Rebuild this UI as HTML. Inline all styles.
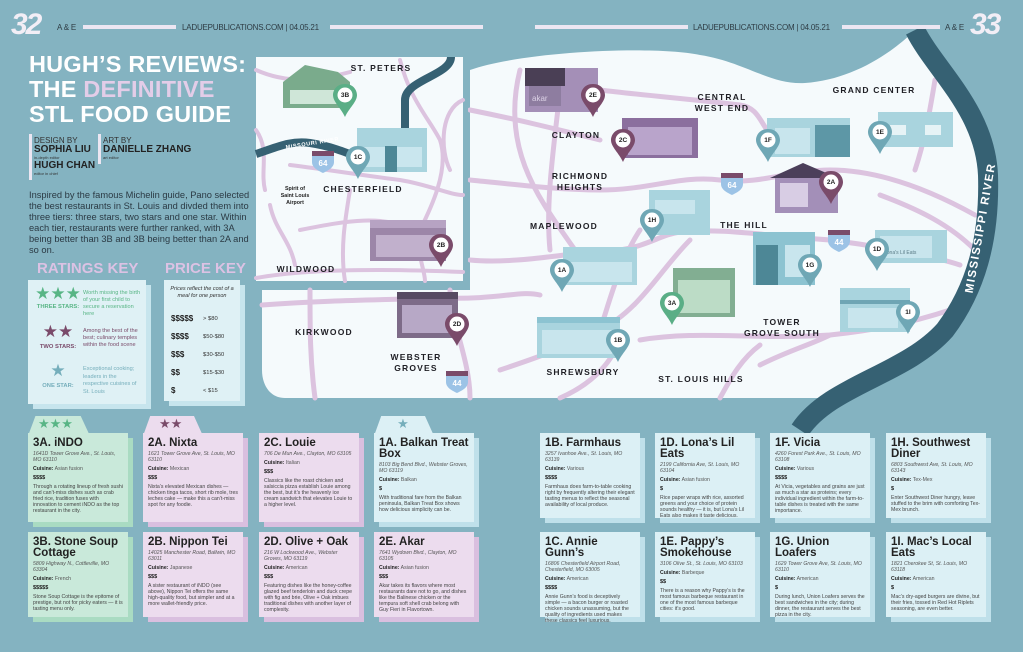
<!DOCTYPE html>
<html><head><meta charset="utf-8">
<style>
*{margin:0;padding:0;box-sizing:border-box}
body{width:1023px;height:652px;overflow:hidden;background:#84b3c1;font-family:"Liberation Sans",sans-serif;position:relative;color:#2b2b33}
.a{position:absolute}
.hdr{font-size:8px;color:#2e3c44;letter-spacing:-0.2px}
.bar{position:absolute;height:4px;background:#ece6f2;top:25px}
.big{font-weight:900;color:#f2eef6;font-size:30px;letter-spacing:-2px;font-style:italic}
.title{left:29px;top:52px;font-weight:bold;color:#fff;font-size:23.5px;line-height:25px;letter-spacing:0.2px}
.cred{font-size:8px;color:#333}
.cred b{font-size:10px;color:#222;display:block;line-height:10px}
.cred i{font-style:normal;font-size:4px;display:block;line-height:6px}
.para{left:29px;top:190px;width:222px;font-size:9.3px;line-height:11px;color:#2b3a44}
.keyt{font-weight:bold;color:#dcc2e4;font-size:15px}
.box{position:absolute;background:#dff1f5;box-shadow:5px 5px 0 #c7e5ed}
.card{position:absolute;width:100px;padding:5px 5px;box-shadow:5px 5px 0 var(--s);background:var(--b)}
.card h3{font-size:11.5px;line-height:11px;font-weight:bold;color:#222;margin-bottom:2px}
.card .ad{font-style:italic;font-size:5.2px;line-height:6px;color:#555}
.card .cu{font-size:5.2px;margin-top:3px;color:#555}
.card .cu b{color:#222}
.card .pr{font-size:5.5px;font-weight:bold;margin-top:3px;color:#222}
.card .tx{font-size:5.2px;line-height:6.1px;margin-top:3px;color:#444}
.g{--b:#c9e9da;--s:#a9dbc2}
.p{--b:#ecdcee;--s:#d9bfdf}
.u{--b:#dcf0f5;--s:#bfe0ea}
.lbl{font-family:"Liberation Sans",sans-serif;font-weight:bold;font-size:8.5px;fill:#1e1e24;letter-spacing:1.2px;text-anchor:middle}
</style></head><body>

<svg class="a" style="left:0;top:0" width="1023" height="652" viewBox="0 0 1023 652">
 <path d="M470 70 C520 52 650 45 700 55 C745 62 770 85 805 83 C850 80 890 55 915 30 C935 70 985 110 988 175 C990 240 975 290 945 330 C905 375 850 390 830 398 L285 398 C270 398 262 385 262 370 L262 290 L470 290 Z" fill="#f5fafc"/>
 <g fill="none" stroke="#dcc3df" stroke-width="5" stroke-linecap="round">
  <path d="M470 110 C520 120 560 130 600 140"/>
  <path d="M600 90 C640 95 700 100 740 105 C760 108 760 125 775 140"/>
  <path d="M470 180 C520 185 560 190 600 190 C650 190 680 175 720 180 C760 185 790 170 830 170 C880 170 930 190 975 215"/>
  <path d="M935 80 C930 110 925 140 915 170"/>
  <path d="M880 195 C920 210 950 225 975 250"/>
  <path d="M470 260 C520 265 580 250 620 250 C650 245 660 235 680 232 C720 228 760 235 830 240 C870 245 930 255 960 265"/>
  <path d="M560 90 C555 140 545 200 550 250"/>
  <path d="M520 70 C500 150 540 200 575 250"/>
  <path d="M262 305 C330 300 380 300 440 298 C500 300 520 290 540 295"/>
  <path d="M310 290 C310 330 310 360 315 398"/>
  <path d="M450 290 C450 320 470 360 470 398"/>
  <path d="M500 370 C530 360 560 350 600 330 C640 310 660 270 690 240"/>
  <path d="M640 230 C620 260 610 300 600 330"/>
  <path d="M640 340 C700 330 750 340 830 335 C880 330 920 320 950 310"/>
  <path d="M760 365 C790 350 810 345 830 335"/>
  <path d="M720 398 C730 380 740 360 760 345"/>
  <path d="M560 398 C590 385 610 365 620 340"/>
 </g>
 <path d="M915 30 C935 70 985 110 988 175 C990 240 975 290 945 330 C905 375 830 385 800 430" fill="none" stroke="#366173" stroke-width="20"/>
 <text x="0" y="0" transform="translate(981,228) rotate(-80)" dominant-baseline="middle" font-family="Liberation Sans" font-weight="bold" font-size="11.5" fill="#fff" letter-spacing="1.5" text-anchor="middle">MISSISSIPPI RIVER</text>

 <rect x="256" y="57" width="207" height="224" fill="#f5fafc" stroke="#84b3c1" stroke-width="10" paint-order="stroke"/>
 <rect x="256" y="57" width="207" height="224" fill="#f5fafc"/>
 <g fill="none" stroke="#dcc3df" stroke-width="4" stroke-linecap="round">
  <path d="M256 70 C290 85 320 80 350 72"/>
  <path d="M256 130 C270 150 260 170 265 190"/>
  <path d="M290 165 C330 170 360 175 400 180 C430 185 450 195 463 195"/>
  <path d="M400 60 C410 100 430 120 440 140 C450 170 430 210 420 230 C415 250 425 270 425 281"/>
  <path d="M463 100 C440 110 440 150 450 170"/>
  <path d="M350 190 C345 220 340 250 345 281"/>
  <path d="M270 205 C275 230 290 240 295 265"/>
  <path d="M256 278 C300 270 370 268 463 272"/>
  <path d="M300 230 C350 220 380 215 420 230"/>
 </g>
 <path d="M451 57 C451 75 405 80 405 100 L405 128" fill="none" stroke="#366173" stroke-width="8"/>
 <path d="M256 154 C275 148 290 140 310 143 C330 146 345 152 360 158" fill="none" stroke="#366173" stroke-width="8"/>
 <text x="286" y="149" transform="rotate(-9 286 149)" font-family="Liberation Sans" font-weight="bold" font-size="5.5" fill="#fff" letter-spacing="0.6">MISSOURI RIVER</text>
</svg>

<svg class="a" style="left:0;top:0" width="1023" height="652" viewBox="0 0 1023 652">
 <g>
  <polygon points="283,82 305,65 338,72 350,82 350,108 283,108" fill="#7aab8c"/><rect x="290" y="90" width="50" height="14" fill="#cfe6d8"/>
  <rect x="357" y="128" width="70" height="44" fill="#a9d4de"/><rect x="362" y="147" width="60" height="20" fill="#c9e6ee"/><rect x="385" y="146" width="12" height="26" fill="#4d8796"/>
  <rect x="370" y="220" width="76" height="41" fill="#9c86a8"/><rect x="370" y="220" width="76" height="8" fill="#b7a3c3"/><rect x="376" y="235" width="60" height="22" fill="#c1b0cc"/>
  <rect x="525" y="68" width="73" height="44" fill="#a48fb7"/><rect x="525" y="68" width="40" height="18" fill="#4a3f55"/><rect x="529" y="86" width="32" height="20" fill="#8e7da0"/><text x="532" y="101" font-size="8" fill="#dcd2e6" font-family="Liberation Sans">akar</text>
  <rect x="397" y="292" width="61" height="46" fill="#7d6b88"/><rect x="397" y="292" width="61" height="7" fill="#574a62"/><rect x="402" y="305" width="50" height="28" fill="#b7a8c6"/>
  <rect x="563" y="247" width="74" height="38" fill="#a9d4de"/><rect x="568" y="262" width="64" height="20" fill="#c8e5ed"/>
  <rect x="537" y="317" width="83" height="41" fill="#a9d4de"/><rect x="537" y="317" width="83" height="6" fill="#8cc3d1"/><rect x="542" y="330" width="70" height="24" fill="#c8e5ed"/>
  <rect x="622" y="118" width="76" height="40" fill="#8b6f9e"/><rect x="628" y="127" width="64" height="28" fill="#b9a4cb"/>
  <rect x="767" y="118" width="83" height="39" fill="#a9d4de"/><rect x="815" y="125" width="35" height="32" fill="#5d97a6"/><rect x="775" y="128" width="35" height="26" fill="#c8e5ed"/>
  <rect x="878" y="112" width="75" height="35" fill="#a9d4de"/><rect x="890" y="125" width="16" height="10" fill="#e6f3f6"/><rect x="925" y="125" width="16" height="10" fill="#e6f3f6"/>
  <polygon points="770,178 803,163 838,178" fill="#4b3f5a"/><rect x="775" y="178" width="63" height="35" fill="#a38fb8"/><rect x="780" y="183" width="28" height="24" fill="#d8cde4"/>
  <rect x="649" y="190" width="61" height="45" fill="#a9d4de"/><rect x="655" y="200" width="40" height="14" fill="#c8e5ed"/>
  <rect x="753" y="232" width="62" height="53" fill="#8cc3d1"/><rect x="756" y="245" width="22" height="40" fill="#4d8796"/><rect x="785" y="245" width="25" height="32" fill="#c8e5ed"/>
  <rect x="875" y="230" width="72" height="33" fill="#a9d4de"/><rect x="880" y="236" width="52" height="22" fill="#c8e5ed"/><text x="884" y="254" font-size="5" fill="#5a7b86" font-family="Liberation Sans">Lona's Lil Eats</text>
  <rect x="673" y="268" width="62" height="49" fill="#82ae92"/><rect x="678" y="280" width="52" height="33" fill="#bcdcc6"/>
  <rect x="840" y="288" width="70" height="44" fill="#a9d4de"/><rect x="840" y="300" width="70" height="4" fill="#6fa5b4"/><rect x="848" y="308" width="50" height="20" fill="#c8e5ed"/>
 </g>
 <defs>
  <g id="pin"><path d="M0 -22 C-9 -22 -12 -15 -12 -11 C-12 -4 -4 2 0 11 C4 2 12 -4 12 -11 C12 -15 9 -22 0 -22 Z"/><circle cx="0" cy="-11" r="7.5" fill="#fff"/></g>
 </defs>
 <g font-family="Liberation Sans" font-weight="bold" font-size="6.5" text-anchor="middle" fill="#222">
  <use href="#pin" x="345" y="106" fill="#5aae86"/><text x="345" y="97">3B</text>
  <use href="#pin" x="358" y="168" fill="#6fa7b5"/><text x="358" y="159">1C</text>
  <use href="#pin" x="441" y="256" fill="#7a4b6a"/><text x="441" y="247">2B</text>
  <use href="#pin" x="593" y="106" fill="#7a4b6a"/><text x="593" y="97">2E</text>
  <use href="#pin" x="457" y="335" fill="#7a4b6a"/><text x="457" y="326">2D</text>
  <use href="#pin" x="562" y="281" fill="#6fa7b5"/><text x="562" y="272">1A</text>
  <use href="#pin" x="618" y="351" fill="#6fa7b5"/><text x="618" y="342">1B</text>
  <use href="#pin" x="623" y="151" fill="#7a4b6a"/><text x="623" y="142">2C</text>
  <use href="#pin" x="768" y="151" fill="#6fa7b5"/><text x="768" y="142">1F</text>
  <use href="#pin" x="880" y="143" fill="#6fa7b5"/><text x="880" y="134">1E</text>
  <use href="#pin" x="831" y="193" fill="#7a4b6a"/><text x="831" y="184">2A</text>
  <use href="#pin" x="652" y="231" fill="#6fa7b5"/><text x="652" y="222">1H</text>
  <use href="#pin" x="877" y="260" fill="#6fa7b5"/><text x="877" y="251">1D</text>
  <use href="#pin" x="810" y="276" fill="#6fa7b5"/><text x="810" y="267">1G</text>
  <use href="#pin" x="672" y="314" fill="#5aae86"/><text x="672" y="305">3A</text>
  <use href="#pin" x="908" y="323" fill="#6fa7b5"/><text x="908" y="314">1I</text>
 </g>
 <defs><g id="sh"><path d="M-11 -9 L11 -9 L11 2 C11 8 4 11 0 13 C-4 11 -11 8 -11 2 Z" fill="#9cc3e6"/><path d="M-11 -9 L11 -9 L11 -4 L-11 -4 Z" fill="#7a4b6a"/></g></defs>
 <g font-family="Liberation Sans" font-weight="bold" font-size="8" fill="#fff" text-anchor="middle">
  <use href="#sh" x="323" y="160"/><text x="323" y="166">64</text>
  <use href="#sh" x="732" y="182"/><text x="732" y="188">64</text>
  <use href="#sh" x="839" y="239"/><text x="839" y="245">44</text>
  <use href="#sh" x="457" y="380"/><text x="457" y="386">44</text>
 </g>
 <text class="lbl" x="381" y="71">ST. PETERS</text>
 <text class="lbl" x="363" y="192">CHESTERFIELD</text>
 <g font-family="Liberation Sans" font-weight="bold" font-size="5.3" fill="#222" text-anchor="middle"><text x="295" y="190">Spirit of</text><text x="295" y="197">Saint Louis</text><text x="295" y="204">Airport</text></g>
 <text class="lbl" x="306" y="272">WILDWOOD</text>
 <text class="lbl" x="324" y="335">KIRKWOOD</text>
 <text class="lbl" x="416" y="360">WEBSTER</text><text class="lbl" x="416" y="371">GROVES</text>
 <text class="lbl" x="576" y="138">CLAYTON</text>
 <text class="lbl" x="580" y="179">RICHMOND</text><text class="lbl" x="580" y="190">HEIGHTS</text>
 <text class="lbl" x="564" y="229">MAPLEWOOD</text>
 <text class="lbl" x="583" y="375">SHREWSBURY</text>
 <text class="lbl" x="722" y="100">CENTRAL</text><text class="lbl" x="722" y="111">WEST END</text>
 <text class="lbl" x="874" y="93">GRAND CENTER</text>
 <text class="lbl" x="744" y="228">THE HILL</text>
 <text class="lbl" x="782" y="325">TOWER</text><text class="lbl" x="782" y="336">GROVE SOUTH</text>
 <text class="lbl" x="701" y="382">ST. LOUIS HILLS</text>
</svg>

<div class="a big" style="left:11px;top:8px">32</div>
<div class="a hdr" style="left:57px;top:23px">A &amp; E</div>
<div class="bar" style="left:83px;width:93px"></div>
<div class="a hdr" style="left:182px;top:23px">LADUEPUBLICATIONS.COM | 04.05.21</div>
<div class="bar" style="left:330px;width:153px"></div>
<div class="bar" style="left:535px;width:153px"></div>
<div class="a hdr" style="left:693px;top:23px">LADUEPUBLICATIONS.COM | 04.05.21</div>
<div class="bar" style="left:842px;width:98px"></div>
<div class="a hdr" style="left:945px;top:23px">A &amp; E</div>
<div class="a big" style="left:970px;top:8px">33</div>

<div class="a title">HUGH’S REVIEWS:<br>THE <span style="color:#e3cde8">DEFINITIVE</span><br>STL FOOD GUIDE</div>

<div class="a" style="left:29px;top:134px;width:3px;height:46px;background:#ece6f2"></div>
<div class="a cred" style="left:34px;top:136px">DESIGN BY<b>SOPHIA LIU</b><i>in-depth editor</i><b>HUGH CHAN</b><i>editor in chief</i></div>
<div class="a" style="left:98px;top:134px;width:3px;height:30px;background:#ece6f2"></div>
<div class="a cred" style="left:103px;top:136px">ART BY<b>DANIELLE ZHANG</b><i>art editor</i></div>

<div class="a para">Inspired by the famous Michelin guide, Pano selected the best restaurants in St. Louis and divded them into three tiers: three stars, two stars and one star. Within each tier, restaurants were further ranked, with 3A being better than 3B and 3B being better than 2A and so on.</div>

<div class="a keyt" style="left:37px;top:260px">RATINGS KEY</div>
<div class="a keyt" style="left:165px;top:260px">PRICE KEY</div>
<div class="box" style="left:28px;top:280px;width:118px;height:124px"></div>
<div class="box" style="left:164px;top:280px;width:76px;height:121px"></div>

<div class="a" style="left:33px;top:286px;width:50px;text-align:center;color:#58b585;font-size:17px;line-height:16px">★★★</div>
<div class="a" style="left:30px;top:304px;width:56px;text-align:center;color:#58b585;font-size:5.8px;font-weight:bold">THREE STARS:</div>
<div class="a" style="left:83px;top:290px;width:60px;color:#58b585;font-size:5.6px;line-height:7px">Worth missing the birth of your first child to secure a reservation here</div>
<div class="a" style="left:33px;top:324px;width:50px;text-align:center;color:#7a4b6a;font-size:17px;line-height:16px">★★</div>
<div class="a" style="left:30px;top:344px;width:56px;text-align:center;color:#7a4b6a;font-size:5.8px;font-weight:bold">TWO STARS:</div>
<div class="a" style="left:83px;top:328px;width:60px;color:#7a4b6a;font-size:5.6px;line-height:7px">Among the best of the best; culinary temples within the food scene</div>
<div class="a" style="left:33px;top:363px;width:50px;text-align:center;color:#75aebb;font-size:17px;line-height:16px">★</div>
<div class="a" style="left:30px;top:383px;width:56px;text-align:center;color:#75aebb;font-size:5.8px;font-weight:bold">ONE STAR:</div>
<div class="a" style="left:83px;top:366px;width:60px;color:#75aebb;font-size:5.6px;line-height:7.5px">Exceptional cooking; leaders in the respective cuisines of St. Louis</div>

<div class="a" style="left:166px;top:286px;width:72px;text-align:center;font-style:italic;font-size:5.5px;line-height:7px;color:#333">Prices reflect the cost of a meal for one person</div>
<div class="a" style="left:171px;top:310px;font-size:8px;line-height:18px;font-weight:bold;color:#222">$$$$$<br>$$$$<br>$$$<br>$$<br>$</div>
<div class="a" style="left:203px;top:310px;font-size:5.8px;line-height:18px;color:#333">&gt; $80<br>$50-$80<br>$30-$50<br>$15-$30<br>&lt; $15</div>

<div class="a" style="left:33px;top:416px;width:45px;height:20px;background:#a9dbc2;clip-path:polygon(10% 0,85% 0,100% 100%,0 100%)"></div>
<div class="a" style="left:28px;top:416px;width:62px;height:20px;background:#c9e9da;clip-path:polygon(12% 0,85% 0,100% 100%,0 100%)"></div>
<div class="a" style="left:38px;top:416px;width:40px;color:#58b585;font-size:13px;line-height:16px">★★★</div>
<div class="a" style="left:148px;top:416px;width:45px;height:20px;background:#d9bfdf;clip-path:polygon(10% 0,85% 0,100% 100%,0 100%)"></div>
<div class="a" style="left:143px;top:416px;width:60px;height:20px;background:#ecdcee;clip-path:polygon(12% 0,85% 0,100% 100%,0 100%)"></div>
<div class="a" style="left:159px;top:416px;color:#7a4b6a;font-size:13px;line-height:16px">★★</div>
<div class="a" style="left:379px;top:416px;width:45px;height:20px;background:#bfe0ea;clip-path:polygon(10% 0,85% 0,100% 100%,0 100%)"></div>
<div class="a" style="left:374px;top:416px;width:60px;height:20px;background:#dcf0f5;clip-path:polygon(12% 0,85% 0,100% 100%,0 100%)"></div>
<div class="a" style="left:383px;top:416px;width:40px;color:#75aebb;font-size:13px;line-height:16px;text-align:center">★</div>

<div class="card g" style="left:28px;top:433px;height:89px"><h3>3A. iNDO</h3><div class="ad">1641D Tower Grove Ave., St. Louis, MO 63110</div><div class="cu"><b>Cuisine:</b> Asian fusion</div><div class="pr">$$$$</div><div class="tx">Through a rotating lineup of fresh sushi and can’t-miss dishes such as crab fried rice, tradition fuses with innovation to cement iNDO as the top restaurant in the city.</div></div>
<div class="card p" style="left:143px;top:433px;height:89px"><h3>2A. Nixta</h3><div class="ad">1621 Tower Grove Ave, St. Louis, MO 63110</div><div class="cu"><b>Cuisine:</b> Mexican</div><div class="pr">$$$</div><div class="tx">Nixta’s elevated Mexican dishes — chicken tinga tacos, short rib mole, tres leches cake — make this a can’t-miss spot for any foodie.</div></div>
<div class="card p" style="left:259px;top:433px;height:89px"><h3>2C. Louie</h3><div class="ad">706 De Mun Ave., Clayton, MO 63105</div><div class="cu"><b>Cuisine:</b> Italian</div><div class="pr">$$$</div><div class="tx">Classics like the roast chicken and salsiccia pizza establish Louie among the best, but it’s the heavenly ice cream sandwich that elevates Louie to a higher level.</div></div>
<div class="card u" style="left:374px;top:433px;height:89px"><h3>1A. Balkan Treat Box</h3><div class="ad">8103 Big Bend Blvd., Webster Groves, MO 63119</div><div class="cu"><b>Cuisine:</b> Balkan</div><div class="pr">$</div><div class="tx">With traditional fare from the Balkan peninsula, Balkan Treat Box shows how delicious simplicity can be.</div></div>

<div class="card g" style="left:28px;top:532px;height:85px"><h3>3B. Stone Soup Cottage</h3><div class="ad">5809 Highway N., Cottleville, MO 63304</div><div class="cu"><b>Cuisine:</b> French</div><div class="pr">$$$$$</div><div class="tx">Stone Soup Cottage is the epitome of prestige, but not for picky eaters — it is tasting menu only.</div></div>
<div class="card p" style="left:143px;top:532px;height:85px"><h3>2B. Nippon Tei</h3><div class="ad">14025 Manchester Road, Ballwin, MO 63011</div><div class="cu"><b>Cuisine:</b> Japanese</div><div class="pr">$$$</div><div class="tx">A sister restaurant of iNDO (see above), Nippon Tei offers the same high-quality food, but simpler and at a more wallet-friendly price.</div></div>
<div class="card p" style="left:259px;top:532px;height:85px"><h3>2D. Olive + Oak</h3><div class="ad">216 W Lockwood Ave., Webster Groves, MO 63119</div><div class="cu"><b>Cuisine:</b> American</div><div class="pr">$$$</div><div class="tx">Featuring dishes like the honey-coffee glazed beef tenderloin and duck crepe with fig and brie, Olive + Oak imbues traditional dishes with another layer of complexity.</div></div>
<div class="card p" style="left:374px;top:532px;height:85px"><h3>2E. Akar</h3><div class="ad">7641 Wydown Blvd., Clayton, MO 63105</div><div class="cu"><b>Cuisine:</b> Asian fusion</div><div class="pr">$$$</div><div class="tx">Akar takes its flavors where most restaurants dare not to go, and dishes like the Balinese chicken or the tempura soft shell crab belong with Guy Fieri in Flavortown.</div></div>

<div class="card u" style="left:540px;top:433px;height:85px"><h3>1B. Farmhaus</h3><div class="ad">3257 Ivanhoe Ave., St. Louis, MO 63139</div><div class="cu"><b>Cuisine:</b> Various</div><div class="pr">$$$$</div><div class="tx">Farmhaus does farm-to-table cooking right by frequently altering their elegant tasting menus to reflect the seasonal availability of local produce.</div></div>
<div class="card u" style="left:655px;top:433px;height:85px"><h3>1D. Lona’s Lil Eats</h3><div class="ad">2199 California Ave, St. Louis, MO 63104</div><div class="cu"><b>Cuisine:</b> Asian fusion</div><div class="pr">$</div><div class="tx">Rice paper wraps with rice, assorted greens and your choice of protein sounds healthy — it is, but Lona’s Lil Eats also makes it taste delicious.</div></div>
<div class="card u" style="left:770px;top:433px;height:85px"><h3>1F. Vicia</h3><div class="ad">4260 Forest Park Ave., St. Louis, MO 63108</div><div class="cu"><b>Cuisine:</b> Various</div><div class="pr">$$$$</div><div class="tx">At Vicia, vegetables and grains are just as much a star as proteins; every individual ingredient within the farm-to-table dishes is treated with the same importance.</div></div>
<div class="card u" style="left:886px;top:433px;height:85px"><h3>1H. Southwest Diner</h3><div class="ad">6803 Southwest Ave, St. Louis, MO 63143</div><div class="cu"><b>Cuisine:</b> Tex-Mex</div><div class="pr">$</div><div class="tx">Enter Southwest Diner hungry, leave stuffed to the brim with comforting Tex-Mex brunch.</div></div>

<div class="card u" style="left:540px;top:532px;height:85px"><h3>1C. Annie Gunn’s</h3><div class="ad">16806 Chesterfield Airport Road, Chesterfield, MO 63005</div><div class="cu"><b>Cuisine:</b> American</div><div class="pr">$$$$</div><div class="tx">Annie Gunn’s food is deceptively simple — a bacon burger or roasted chicken sounds unassuming, but the quality of ingredients used makes these classics feel luxurious.</div></div>
<div class="card u" style="left:655px;top:532px;height:85px"><h3>1E. Pappy’s Smokehouse</h3><div class="ad">3106 Olive St., St. Louis, MO 63103</div><div class="cu"><b>Cuisine:</b> Barbeque</div><div class="pr">$$</div><div class="tx">There is a reason why Pappy’s is the most famous barbeque restaurant in one of the most famous barbeque cities: it’s good.</div></div>
<div class="card u" style="left:770px;top:532px;height:85px"><h3>1G. Union Loafers</h3><div class="ad">1629 Tower Grove Ave, St. Louis, MO 63110</div><div class="cu"><b>Cuisine:</b> American</div><div class="pr">$</div><div class="tx">During lunch, Union Loafers serves the best sandwiches in the city; during dinner, the restaurant serves the best pizza in the city.</div></div>
<div class="card u" style="left:886px;top:532px;height:85px"><h3>1I. Mac’s Local Eats</h3><div class="ad">1821 Cherokee St, St. Louis, MO 63118</div><div class="cu"><b>Cuisine:</b> American</div><div class="pr">$</div><div class="tx">Mac’s dry-aged burgers are divine, but their fries, tossed in Red Hot Riplets seasoning, are even better.</div></div>
</body></html>
